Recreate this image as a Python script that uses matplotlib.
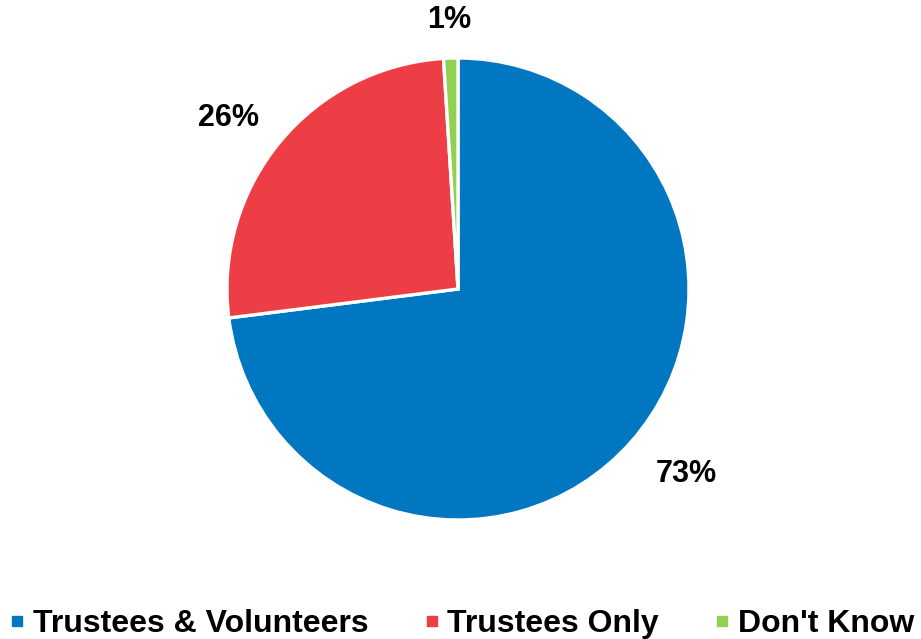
import matplotlib.pyplot as plt
from matplotlib.lines import Line2D

# survey answers
categories = ["Trustees & Volunteers", "Trustees Only", "Don't Know"]
shares = [73, 26, 1]
colors = ["#0077C0", "#EE3E45", "#92D050"]

# where each percentage label sits (pie radius = 1)
label_xy = [(0.99, -0.80), (-0.995, 0.74), (-0.04, 1.165)]

plt.rcParams['font.family'] = ['Liberation Sans', 'DejaVu Sans']

fig = plt.figure(figsize=(9.21, 6.39), dpi=100)
W, H = 921, 639
cx, cy, r = 458, 289, 231
ax = fig.add_axes([(cx - r) / W, (H - cy - r) / H, 2 * r / W, 2 * r / H])

wedges, _ = ax.pie(shares, colors=colors, startangle=90, counterclock=False,
                   radius=1, wedgeprops=dict(edgecolor='white', linewidth=2.4))
ax.set_xlim(-1, 1)
ax.set_ylim(-1, 1)
ax.set_aspect('equal')
ax.axis('off')

# percentage labels outside each slice
for val, (x, y) in zip(shares, label_xy):
    ax.text(x, y, f"{val}%", ha='center', va='center',
            fontsize=22, fontweight='bold', color='black')

handles = [Line2D([], [], marker='s', linestyle='none', markersize=6.5,
                  markerfacecolor=c, markeredgecolor=c) for c in colors]
fig.legend(handles, categories, loc='lower left', bbox_to_anchor=(9 / W, 0),
           ncol=3, frameon=False, prop=dict(weight='bold', size=23),
           handlelength=0.5, handletextpad=0.25, columnspacing=1.72, borderpad=0,
           borderaxespad=0)

fig.savefig('out.png', dpi=100)
